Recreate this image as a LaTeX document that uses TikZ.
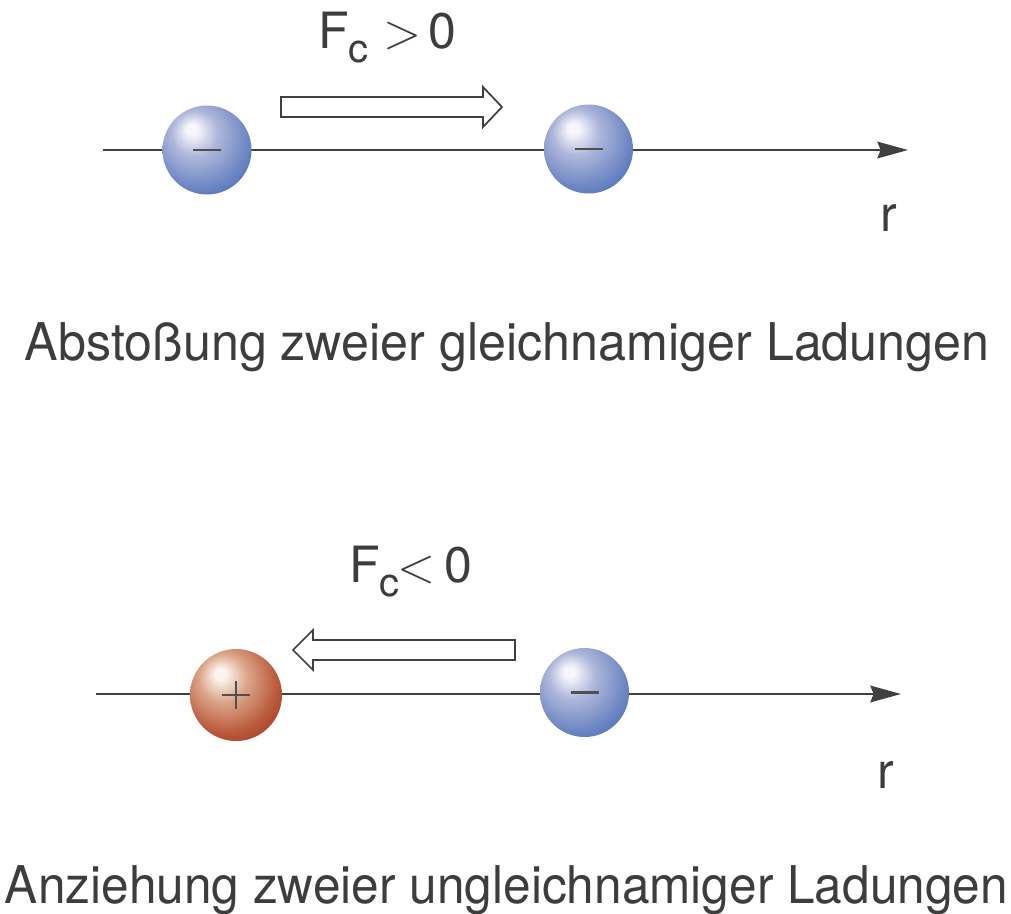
\documentclass[tikz,border=0pt]{standalone}
\usepackage{fontspec}
\setmainfont{TeX Gyre Heros}
\newfontfamily\lmr{Latin Modern Roman}
\usetikzlibrary{arrows.meta}
\definecolor{txt}{HTML}{3D3D3D}
\definecolor{ln}{HTML}{404040}
\definecolor{sgn}{HTML}{505050}
\definecolor{bwhite}{HTML}{F6F6FB}
\definecolor{bmida}{HTML}{AEB7DA}
\definecolor{bmidb}{HTML}{7088C4}
\definecolor{bedge}{HTML}{3566AE}
\definecolor{rwhite}{HTML}{FBF4EE}
\definecolor{rmida}{HTML}{DBA68A}
\definecolor{rmidb}{HTML}{BA5A3C}
\definecolor{redge}{HTML}{9C2C18}
\pgfdeclareradialshading{bluesphere}{\pgfpoint{-9bp}{12bp}}{color(0bp)=(bwhite); color(3bp)=(bwhite); color(13bp)=(bmida); color(27bp)=(bmidb); color(40bp)=(bedge); color(60bp)=(bedge)}
\pgfdeclareradialshading{redsphere}{\pgfpoint{-9bp}{12bp}}{color(0bp)=(rwhite); color(3bp)=(rwhite); color(13bp)=(rmida); color(27bp)=(rmidb); color(40bp)=(redge); color(60bp)=(redge)}
\tikzset{
  axis/.style={draw=ln, line width=1.5pt, -{Stealth[length=23pt, width=12.5pt, inset=2.5pt]}},
  bluesph/.style={circle, inner sep=0pt, minimum size=66.75pt, shading=bluesphere},
  redsph/.style={circle, inner sep=0pt, minimum size=69pt, shading=redsphere},
  sign/.style={draw=sgn, line width=2.1pt},
  hollow/.style={draw=ln, fill=white, line width=1.3pt, line join=miter},
  lbl/.style={text=txt, inner sep=0pt, anchor=base west, font=\fontsize{37.5pt}{40pt}\selectfont},
  captext/.style={text=txt, inner sep=0pt, anchor=base, font=\fontsize{39pt}{42pt}\selectfont}
}
\newcommand{\subc}{\lower11pt\hbox{\fontsize{30pt}{30pt}\selectfont c}}
\begin{document}
\begin{tikzpicture}[x=0.75pt, y=-0.75pt]
\useasboundingbox (0,0) rectangle (1011,914);
% ---------- top: repulsion ----------
\coordinate (a1s) at (103,150);
\coordinate (a1e) at (908,150);
\draw[axis] (a1s) -- (a1e);
\node[bluesph] (s1) at (207,150) {};
\node[bluesph] (s2) at (588.5,149) {};
\draw[sign] ([xshift=-10.5pt]s1.center) -- ([xshift=10.5pt]s1.center);
\draw[sign] ([xshift=-10.5pt]s2.center) -- ([xshift=10.5pt]s2.center);
\draw[hollow] (281,97) -- (483,97) -- (483,87) -- (502,107) -- (483,127) -- (483,117) -- (281,117) -- cycle;
\node[lbl] (f1) at (318,48) {F\subc\kern11pt{\lmr >}\kern5pt0};
\node[lbl] (r1) at (880,231) {r};
\node[captext] (c1) at (507,360) {\resizebox{723.75pt}{\height}{Abstoßung zweier gleichnamiger Ladungen}};
% ---------- bottom: attraction ----------
\coordinate (a2s) at (96,694);
\coordinate (a2e) at (901,694);
\draw[axis] (a2s) -- (a2e);
\node[redsph] (s3) at (236,695) {};
\node[bluesph] (s4) at (584.5,692.5) {};
\draw[sign] ([xshift=-10.5pt]s3.center) -- ([xshift=10.5pt]s3.center);
\draw[sign] ([yshift=-10.8pt]s3.center) -- ([yshift=10.8pt]s3.center);
\draw[sign] ([xshift=-10.5pt]s4.center) -- ([xshift=10.5pt]s4.center);
\draw[hollow] (515,640) -- (313,640) -- (313,630) -- (293,650) -- (313,670) -- (313,660) -- (515,660) -- cycle;
\node[lbl] (f2) at (349,582) {F\subc\kern-2pt{\lmr <}\kern7pt0};
\node[lbl] (r2) at (877,788) {r};
\node[captext] (c2) at (506.5,903) {\resizebox{752.25pt}{\height}{Anziehung zweier ungleichnamiger Ladungen}};
\end{tikzpicture}
\end{document}
